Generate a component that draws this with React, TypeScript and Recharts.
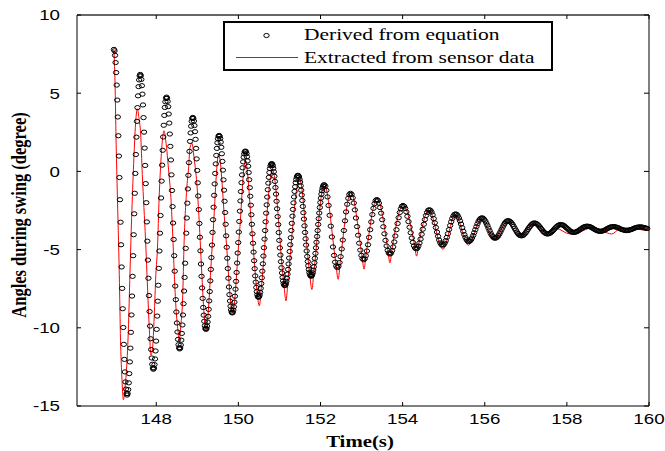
import { ComposedChart, Scatter, Line, XAxis, YAxis } from 'recharts';

const xTicks = [148, 150, 152, 154, 156, 158, 160];
const yTicks = [-15, -10, -5, 0, 5, 10];
const seriesNames = ['Derived from equation', 'Extracted from sensor data'];
const xTitle = 'Time(s)';
const yTitle = 'Angles during swing (degree)';

// circles, one row per half swing (denser rows while the swing is large)
const derivedTime = [
  146.970, 146.983, 146.997, 147.010, 147.023, 147.037, 147.050, 147.063, 147.077, 147.090, 147.103, 147.117, 147.130, 147.143, 147.157, 147.170, 147.183, 147.197, 147.210, 147.223, 147.237, 147.250, 147.263, 147.277,
  147.290, 147.303, 147.317, 147.330, 147.343, 147.357, 147.370, 147.383, 147.397, 147.410, 147.423, 147.437, 147.450, 147.463, 147.477, 147.490, 147.503, 147.517, 147.530, 147.543, 147.557, 147.570, 147.583, 147.597,
  147.610, 147.623, 147.637, 147.650, 147.663, 147.677, 147.690, 147.703, 147.717, 147.730, 147.743, 147.757, 147.770, 147.783, 147.797, 147.810, 147.823, 147.837, 147.850, 147.863, 147.877, 147.890, 147.903, 147.917,
  147.930, 147.943, 147.957, 147.970, 147.983, 147.997, 148.010, 148.023, 148.037, 148.050, 148.063, 148.077, 148.090, 148.103, 148.117, 148.130, 148.143, 148.157, 148.170, 148.183, 148.197, 148.210, 148.223, 148.237,
  148.250, 148.263, 148.277, 148.290, 148.303, 148.317, 148.330, 148.343, 148.357, 148.370, 148.383, 148.397, 148.410, 148.423, 148.437, 148.450, 148.463, 148.477, 148.490, 148.503, 148.517, 148.530, 148.543, 148.557,
  148.570, 148.583, 148.597, 148.610, 148.623, 148.637, 148.650, 148.663, 148.677, 148.690, 148.703, 148.717, 148.730, 148.743, 148.757, 148.770, 148.783, 148.797, 148.810, 148.823, 148.837, 148.850, 148.863, 148.877,
  148.890, 148.903, 148.917, 148.930, 148.943, 148.957, 148.970, 148.983, 148.997, 149.010, 149.023, 149.037, 149.050, 149.063, 149.077, 149.090, 149.103, 149.117, 149.130, 149.143, 149.157, 149.170, 149.183, 149.197,
  149.210, 149.223, 149.237, 149.250, 149.263, 149.277, 149.290, 149.303, 149.317, 149.330, 149.343, 149.357, 149.370, 149.383, 149.397, 149.410, 149.423, 149.437, 149.450, 149.463, 149.477, 149.490, 149.503, 149.517,
  149.530, 149.543, 149.557, 149.570, 149.583, 149.597, 149.610, 149.623, 149.637, 149.650, 149.663, 149.677, 149.690, 149.703, 149.717, 149.730, 149.743, 149.757, 149.770, 149.783, 149.797, 149.810, 149.823, 149.837,
  149.850, 149.863, 149.877, 149.890, 149.903, 149.917, 149.930, 149.943, 149.957, 149.970, 149.983, 149.997, 150.010, 150.023, 150.037, 150.050, 150.063, 150.077, 150.090, 150.103, 150.117, 150.130, 150.143, 150.157,
  150.170, 150.183, 150.197, 150.210, 150.223, 150.237, 150.250, 150.263, 150.277, 150.290, 150.303, 150.317, 150.330, 150.343, 150.357, 150.370, 150.383, 150.397, 150.410, 150.423, 150.437, 150.450, 150.463, 150.477,
  150.490, 150.503, 150.517, 150.530, 150.543, 150.557, 150.570, 150.583, 150.597, 150.610, 150.623, 150.637, 150.650, 150.663, 150.677, 150.690, 150.703, 150.717, 150.730, 150.743, 150.757, 150.770, 150.783, 150.797,
  150.810, 150.823, 150.837, 150.850, 150.863, 150.877, 150.890, 150.903, 150.917, 150.930, 150.943, 150.957, 150.970, 150.983, 150.997, 151.010, 151.023, 151.037, 151.050, 151.063, 151.077, 151.090, 151.103, 151.117,
  151.130, 151.143, 151.157, 151.170, 151.183, 151.197, 151.210, 151.223, 151.237, 151.250, 151.263, 151.277, 151.290, 151.303, 151.317, 151.330, 151.343, 151.357, 151.370, 151.383, 151.397, 151.410, 151.423, 151.437,
  151.450, 151.463, 151.477, 151.490, 151.503, 151.517, 151.530, 151.543, 151.557, 151.570, 151.583, 151.597, 151.610, 151.623, 151.637, 151.650, 151.663, 151.677, 151.690, 151.703, 151.717, 151.730, 151.743, 151.757,
  151.770, 151.783, 151.797, 151.810, 151.823, 151.837, 151.850, 151.863, 151.877, 151.890, 151.903, 151.917, 151.930, 151.943, 151.957, 151.970, 151.983, 151.997, 152.010, 152.023, 152.037, 152.050, 152.063, 152.077,
  152.090, 152.117, 152.143, 152.170, 152.197, 152.223, 152.250, 152.277, 152.303, 152.330, 152.357, 152.383,
  152.410, 152.437, 152.463, 152.490, 152.517, 152.543, 152.570, 152.597, 152.623, 152.650, 152.677, 152.703,
  152.730, 152.757, 152.783, 152.810, 152.837, 152.863, 152.890, 152.917, 152.943, 152.970, 152.997, 153.023,
  153.050, 153.077, 153.103, 153.130, 153.157, 153.183, 153.210, 153.237, 153.263, 153.290, 153.317, 153.343,
  153.370, 153.397, 153.423, 153.450, 153.477, 153.503, 153.530, 153.557, 153.583, 153.610, 153.637, 153.663,
  153.690, 153.717, 153.743, 153.770, 153.797, 153.823, 153.850, 153.877, 153.903, 153.930, 153.957, 153.983,
  154.010, 154.037, 154.063, 154.090, 154.117, 154.143, 154.170, 154.197, 154.223, 154.250, 154.277, 154.303,
  154.330, 154.357, 154.383, 154.410, 154.437, 154.463, 154.490, 154.517, 154.543, 154.570, 154.597, 154.623,
  154.650, 154.677, 154.703, 154.730, 154.757, 154.783, 154.810, 154.837, 154.863, 154.890, 154.917, 154.943,
  154.970, 154.997, 155.023, 155.050, 155.077, 155.103, 155.130, 155.157, 155.183, 155.210, 155.237, 155.263,
  155.290, 155.317, 155.343, 155.370, 155.397, 155.423, 155.450, 155.477, 155.503, 155.530, 155.557, 155.583,
  155.610, 155.637, 155.663, 155.690, 155.717, 155.743, 155.770, 155.797, 155.823, 155.850, 155.877, 155.903,
  155.930, 155.957, 155.983, 156.010, 156.037, 156.063, 156.090, 156.117, 156.143, 156.170, 156.197, 156.223,
  156.250, 156.277, 156.303, 156.330, 156.357, 156.383, 156.410, 156.437, 156.463, 156.490, 156.517, 156.543,
  156.570, 156.597, 156.623, 156.650, 156.677, 156.703, 156.730, 156.757, 156.783, 156.810, 156.837, 156.863,
  156.890, 156.917, 156.943, 156.970, 156.997, 157.023, 157.050, 157.077, 157.103, 157.130, 157.157, 157.183,
  157.210, 157.237, 157.263, 157.290, 157.317, 157.343, 157.370, 157.397, 157.423, 157.450, 157.477, 157.503,
  157.530, 157.557, 157.583, 157.610, 157.637, 157.663, 157.690, 157.717, 157.743, 157.770, 157.797, 157.823,
  157.850, 157.877, 157.903, 157.930, 157.957, 157.983, 158.010, 158.037, 158.063, 158.090, 158.117, 158.143,
  158.170, 158.197, 158.223, 158.250, 158.277, 158.303, 158.330, 158.357, 158.383, 158.410, 158.437, 158.463,
  158.490, 158.517, 158.543, 158.570, 158.597, 158.623, 158.650, 158.677, 158.703, 158.730, 158.757, 158.783,
  158.810, 158.837, 158.863, 158.890, 158.917, 158.943, 158.970, 158.997, 159.023, 159.050, 159.077, 159.103,
  159.130, 159.157, 159.183, 159.210, 159.237, 159.263, 159.290, 159.317, 159.343, 159.370, 159.397, 159.423,
  159.450, 159.477, 159.503, 159.530, 159.557, 159.583, 159.610, 159.637, 159.663, 159.690, 159.717, 159.743,
  159.770, 159.797, 159.823, 159.850, 159.877, 159.903, 159.930, 159.957,
];

const derivedAngle = [
  7.80, 7.71, 7.42, 6.96, 6.32, 5.52, 4.56, 3.48, 2.28, 0.98, -0.39, -1.81, -3.25, -4.69, -6.11, -7.48, -8.78, -9.98, -11.06, -12.02, -12.82, -13.46, -13.92, -14.21,
  -14.30, -14.21, -13.95, -13.52, -12.93, -12.18, -11.30, -10.29, -9.18, -7.97, -6.71, -5.39, -4.05, -2.71, -1.40, -0.13, 1.08, 2.19, 3.20, 4.08, 4.83, 5.42, 5.85, 6.11,
  6.20, 6.12, 5.88, 5.48, 4.94, 4.25, 3.44, 2.51, 1.49, 0.38, -0.78, -2.00, -3.23, -4.46, -5.67, -6.83, -7.94, -8.96, -9.89, -10.70, -11.39, -11.93, -12.33, -12.57,
  -12.65, -12.58, -12.35, -11.99, -11.48, -10.85, -10.10, -9.25, -8.30, -7.28, -6.20, -5.09, -3.95, -2.82, -1.70, -0.62, 0.40, 1.35, 2.20, 2.95, 3.58, 4.09, 4.45, 4.68,
  4.75, 4.68, 4.48, 4.14, 3.67, 3.09, 2.39, 1.60, 0.73, -0.22, -1.22, -2.25, -3.30, -4.35, -5.39, -6.38, -7.33, -8.20, -8.99, -9.69, -10.27, -10.74, -11.08, -11.28,
  -11.35, -11.29, -11.10, -10.79, -10.36, -9.82, -9.18, -8.46, -7.65, -6.78, -5.87, -4.92, -3.95, -2.98, -2.03, -1.12, -0.25, 0.56, 1.28, 1.92, 2.46, 2.89, 3.20, 3.39,
  3.45, 3.39, 3.22, 2.93, 2.54, 2.05, 1.47, 0.80, 0.06, -0.73, -1.57, -2.44, -3.33, -4.21, -5.08, -5.92, -6.71, -7.45, -8.12, -8.70, -9.19, -9.58, -9.87, -10.04,
  -10.10, -10.05, -9.89, -9.63, -9.27, -8.82, -8.28, -7.68, -7.00, -6.27, -5.51, -4.71, -3.90, -3.09, -2.29, -1.53, -0.80, -0.13, 0.48, 1.02, 1.47, 1.83, 2.09, 2.25,
  2.30, 2.25, 2.11, 1.87, 1.54, 1.13, 0.64, 0.08, -0.54, -1.20, -1.91, -2.63, -3.38, -4.12, -4.85, -5.55, -6.21, -6.83, -7.39, -7.88, -8.29, -8.62, -8.86, -9.00,
  -9.05, -9.01, -8.87, -8.66, -8.36, -7.98, -7.53, -7.03, -6.46, -5.86, -5.22, -4.55, -3.88, -3.20, -2.54, -1.89, -1.29, -0.72, -0.22, 0.23, 0.61, 0.91, 1.12, 1.26,
  1.30, 1.26, 1.14, 0.94, 0.67, 0.33, -0.07, -0.53, -1.04, -1.59, -2.16, -2.77, -3.38, -3.99, -4.59, -5.16, -5.71, -6.22, -6.68, -7.08, -7.42, -7.69, -7.89, -8.01,
  -8.05, -8.01, -7.91, -7.73, -7.48, -7.17, -6.80, -6.38, -5.91, -5.41, -4.88, -4.33, -3.78, -3.22, -2.67, -2.14, -1.64, -1.17, -0.75, -0.38, -0.07, 0.18, 0.36, 0.46,
  0.50, 0.47, 0.37, 0.20, -0.02, -0.31, -0.64, -1.03, -1.45, -1.91, -2.39, -2.89, -3.40, -3.91, -4.41, -4.89, -5.35, -5.77, -6.16, -6.49, -6.78, -7.00, -7.17, -7.27,
  -7.30, -7.27, -7.18, -7.03, -6.83, -6.57, -6.27, -5.92, -5.54, -5.12, -4.69, -4.24, -3.78, -3.32, -2.86, -2.43, -2.01, -1.63, -1.28, -0.98, -0.72, -0.52, -0.37, -0.28,
  -0.25, -0.28, -0.36, -0.50, -0.68, -0.92, -1.20, -1.51, -1.86, -2.24, -2.64, -3.05, -3.48, -3.90, -4.31, -4.71, -5.09, -5.44, -5.76, -6.03, -6.27, -6.46, -6.59, -6.67,
  -6.70, -6.68, -6.60, -6.48, -6.31, -6.10, -5.84, -5.56, -5.24, -4.89, -4.53, -4.16, -3.78, -3.39, -3.02, -2.66, -2.31, -1.99, -1.71, -1.45, -1.24, -1.07, -0.95, -0.88,
  -0.85, -0.94, -1.21, -1.63, -2.18, -2.81, -3.50, -4.19, -4.83, -5.37, -5.80, -6.06,
  -6.15, -6.07, -5.83, -5.45, -4.96, -4.39, -3.78, -3.16, -2.59, -2.10, -1.72, -1.48,
  -1.40, -1.47, -1.69, -2.02, -2.46, -2.98, -3.53, -4.08, -4.59, -5.03, -5.37, -5.58,
  -5.65, -5.59, -5.39, -5.09, -4.69, -4.22, -3.73, -3.23, -2.76, -2.36, -2.06, -1.87,
  -1.80, -1.86, -2.03, -2.31, -2.67, -3.09, -3.54, -3.99, -4.41, -4.77, -5.05, -5.22,
  -5.28, -5.23, -5.07, -4.83, -4.51, -4.13, -3.73, -3.33, -2.96, -2.63, -2.39, -2.23,
  -2.18, -2.23, -2.37, -2.59, -2.87, -3.21, -3.57, -3.92, -4.26, -4.54, -4.76, -4.90,
  -4.95, -4.91, -4.78, -4.58, -4.33, -4.02, -3.70, -3.38, -3.08, -2.82, -2.62, -2.49,
  -2.45, -2.49, -2.60, -2.78, -3.02, -3.29, -3.59, -3.88, -4.15, -4.39, -4.57, -4.68,
  -4.72, -4.69, -4.59, -4.43, -4.22, -3.98, -3.72, -3.46, -3.22, -3.01, -2.85, -2.75,
  -2.72, -2.75, -2.84, -2.98, -3.16, -3.37, -3.60, -3.83, -4.04, -4.22, -4.36, -4.45,
  -4.48, -4.45, -4.38, -4.26, -4.10, -3.92, -3.73, -3.53, -3.35, -3.19, -3.07, -3.00,
  -2.97, -2.99, -3.06, -3.16, -3.30, -3.45, -3.62, -3.79, -3.95, -4.08, -4.18, -4.25,
  -4.27, -4.25, -4.20, -4.11, -3.99, -3.86, -3.71, -3.56, -3.43, -3.31, -3.22, -3.17,
  -3.15, -3.17, -3.22, -3.29, -3.39, -3.51, -3.64, -3.76, -3.88, -3.98, -4.06, -4.10,
  -4.12, -4.11, -4.07, -4.00, -3.92, -3.82, -3.71, -3.60, -3.51, -3.42, -3.36, -3.31,
  -3.30, -3.31, -3.35, -3.40, -3.48, -3.56, -3.65, -3.74, -3.83, -3.90, -3.95, -3.99,
  -4.00, -3.99, -3.96, -3.91, -3.85, -3.78, -3.70, -3.62, -3.55, -3.49, -3.44, -3.41,
  -3.40, -3.41, -3.43, -3.47, -3.53, -3.59, -3.65, -3.71, -3.78, -3.83, -3.87, -3.89,
  -3.90, -3.89, -3.87, -3.84, -3.80, -3.75, -3.70, -3.65, -3.60, -3.56, -3.53, -3.51,
  -3.50, -3.51, -3.52, -3.55, -3.58, -3.62, -3.67, -3.71, -3.75, -3.78, -3.81, -3.82,
  -3.83, -3.83, -3.81, -3.79, -3.76, -3.72, -3.68, -3.64, -3.61, -3.57, -3.55, -3.54,
  -3.53, -3.53, -3.55, -3.57, -3.59, -3.62, -3.66, -3.69, -3.72, -3.74, -3.76, -3.78,
  -3.78, -3.78, -3.77, -3.75, -3.72, -3.70, -3.67, -3.64, -3.61, -3.58, -3.57, -3.56,
  -3.55, -3.55, -3.56, -3.57, -3.59, -3.61, -3.63, -3.65,
];

// red sensor trace
const sensorTime = [
  146.97, 147.00, 147.02, 147.05, 147.10, 147.13, 147.16, 147.20, 147.24, 147.27, 147.32, 147.36,
  147.40, 147.45, 147.49, 147.54, 147.58, 147.62, 147.66, 147.70, 147.74, 147.79, 147.83, 147.87,
  147.91, 147.95, 147.99, 148.03, 148.07, 148.11, 148.15, 148.19, 148.23, 148.31, 148.35, 148.40,
  148.44, 148.48, 148.53, 148.56, 148.60, 148.64, 148.68, 148.74, 148.79, 148.82, 148.87, 148.92,
  149.00, 149.05, 149.09, 149.13, 149.17, 149.21, 149.37, 149.52, 149.69, 149.86, 150.02, 150.17,
  150.33, 150.45, 150.51, 150.56, 150.83, 151.10, 151.16, 151.21, 151.49, 151.73, 151.79, 151.84,
  152.09, 152.37, 152.43, 152.48, 152.74, 153.01, 153.06, 153.11, 153.38, 153.64, 153.69, 153.74,
  154.01, 154.29, 154.34, 154.39, 154.64, 154.98, 155.28, 155.60, 155.91, 156.24, 156.53, 156.86,
  157.18, 157.46, 157.74, 158.07, 158.35, 158.64, 158.88, 159.09, 159.29, 159.57, 159.90, 160.00,
];

const sensorAngle = [
  7.76, 5.2, 2.2, -1.2, -6.6, -10.8, -13.0, -14.6, -13.8, -12.9, -10.2, -6.5,
  -3.0, 0.5, 2.8, 4.0, 3.4, 2.4, -0.2, -2.3, -4.4, -7.6, -10.0, -11.75,
  -11.3, -9.3, -6.6, -4.9, -1.7, 0.5, 2.0, 2.6, 2.0, -0.2, -1.4, -4.0,
  -6.6, -8.7, -10.2, -10.8, -9.8, -8.3, -4.4, -1.2, 0.3, 1.5, 1.8, 0.9,
  -1.2, -3.4, -5.5, -7.6, -9.3, -10.15, -4.5, 1.1, -4.0, -9.05, -4.2, 0.7,
  -3.8, -7.6, -8.6, -7.4, 0.1, -7.0, -8.27, -6.9, -0.47, -6.4, -7.55, -6.4,
  -0.8, -5.8, -6.9, -5.8, -1.33, -5.4, -6.25, -5.3, -1.72, -5.0, -5.85, -5.0,
  -2.15, -4.7, -5.42, -4.7, -2.47, -4.98, -2.75, -4.72, -3.1, -4.35, -3.25, -4.1,
  -3.35, -4.0, -3.65, -4.0, -3.83, -3.58, -3.83, -4.0, -3.67, -3.6, -3.77, -3.78,
];

const derived = derivedTime.map((t, i) => ({ t, v: derivedAngle[i] }));
const sensor = sensorTime.map((t, i) => ({ t, v: sensorAngle[i] }));

const SANS = '"Liberation Sans", Arial, sans-serif';
const SERIF = '"Liberation Serif", "Times New Roman", serif';

function LeftTick({ x, y, payload }: any) {
  return (
    <g>
      <line x1={x} x2={x + 4} y1={y} y2={y} stroke="#000" />
      <text transform={`translate(${x - 17},${y + 5.3}) scale(1.25,1)`} textAnchor="end" fontFamily={SANS} fontSize={15} fill="#000">
        {payload.value}
      </text>
    </g>
  );
}

function BottomTick({ x, y, payload }: any) {
  return (
    <g>
      <line x1={x} x2={x} y1={y} y2={y - 4} stroke="#000" />
      <text transform={`translate(${x},${y + 18}) scale(1.25,1)`} textAnchor="middle" fontFamily={SANS} fontSize={15} fill="#000">
        {payload.value}
      </text>
    </g>
  );
}

function RightTick({ x, y }: any) {
  return <line x1={x - 5} x2={x} y1={y} y2={y} stroke="#000" />;
}

function TopTick({ x, y }: any) {
  return <line x1={x} x2={x} y1={y} y2={y + 4} stroke="#000" />;
}

const Circle = (p: any) => (
  <ellipse cx={p.cx} cy={p.cy} rx={2.7} ry={2.1} fill="none" stroke="#000" strokeWidth={1} />
);

const XTitle = () => (
  <text transform="translate(360,446.5) scale(1.3,1)" textAnchor="middle" fontFamily={SERIF} fontWeight="bold" fontSize={16} fill="#000">
    {xTitle}
  </text>
);

const YTitle = () => (
  <text transform="translate(26,215) rotate(-90) scale(1,1.3)" textAnchor="middle" fontFamily={SERIF} fontWeight="bold" fontSize={16.5} fill="#000">
    {yTitle}
  </text>
);

const legendText = {
  position: 'absolute' as const,
  left: 79,
  fontFamily: SERIF,
  fontSize: 16.5,
  lineHeight: '20px',
  color: '#000',
  whiteSpace: 'nowrap' as const,
  transform: 'scaleX(1.3)',
  transformOrigin: 'left center',
};

function LegendBox() {
  return (
    <div
      style={{
        position: 'absolute',
        left: 223,
        top: 21,
        width: 330,
        height: 50,
        boxSizing: 'border-box',
        border: '2px solid #000',
        background: '#fff',
      }}
    >
      <svg width={326} height={46} style={{ position: 'absolute', left: 0, top: 0 }}>
        <ellipse cx={41.5} cy={12.5} rx={2.7} ry={2.1} fill="none" stroke="#000" strokeWidth={1} />
        <line x1={11} x2={73} y1={34.5} y2={34.5} stroke="#ff0000" strokeWidth={1} />
      </svg>
      <div style={{ ...legendText, top: 2 }}>{seriesNames[0]}</div>
      <div style={{ ...legendText, top: 25 }}>{seriesNames[1]}</div>
    </div>
  );
}

export default function App() {
  return (
    <div style={{ position: 'absolute', left: 0, top: 0, width: 665, height: 451, background: '#fff' }}>
      <ComposedChart width={665} height={451} margin={{ top: 14, right: 15, bottom: 15, left: 0 }}>
        <XAxis
          dataKey="t"
          type="number"
          domain={[146.07, 160]}
          ticks={xTicks}
          interval={0}
          height={30}
          tickSize={0}
          tickMargin={0}
          tickLine={false}
          axisLine={{ stroke: '#000' }}
          tick={BottomTick}
          label={XTitle}
        />
        <XAxis
          xAxisId="top"
          orientation="top"
          dataKey="t"
          type="number"
          domain={[146.07, 160]}
          ticks={xTicks}
          interval={0}
          height={1}
          tickSize={0}
          tickMargin={0}
          tickLine={false}
          axisLine={{ stroke: '#333', strokeWidth: 1.5 }}
          tick={TopTick}
        />
        <YAxis
          dataKey="v"
          type="number"
          domain={[-15, 10]}
          ticks={yTicks}
          interval={0}
          width={77}
          tickSize={0}
          tickMargin={0}
          tickLine={false}
          axisLine={{ stroke: '#000' }}
          tick={LeftTick}
          label={YTitle}
        />
        <YAxis
          yAxisId="right"
          orientation="right"
          dataKey="v"
          type="number"
          domain={[-15, 10]}
          ticks={yTicks}
          interval={0}
          width={1}
          tickSize={0}
          tickMargin={0}
          tickLine={false}
          axisLine={{ stroke: '#000' }}
          tick={RightTick}
        />
        <Scatter
          name={seriesNames[0]}
          data={derived}
          dataKey="v"
          xAxisId="top"
          yAxisId="right"
          shape={Circle}
          isAnimationActive={false}
        />
        <Line
          name={seriesNames[1]}
          data={sensor}
          dataKey="v"
          type="monotone"
          stroke="#ff0000"
          strokeWidth={1}
          dot={false}
          activeDot={false}
          isAnimationActive={false}
        />
      </ComposedChart>
      <LegendBox />
    </div>
  );
}
